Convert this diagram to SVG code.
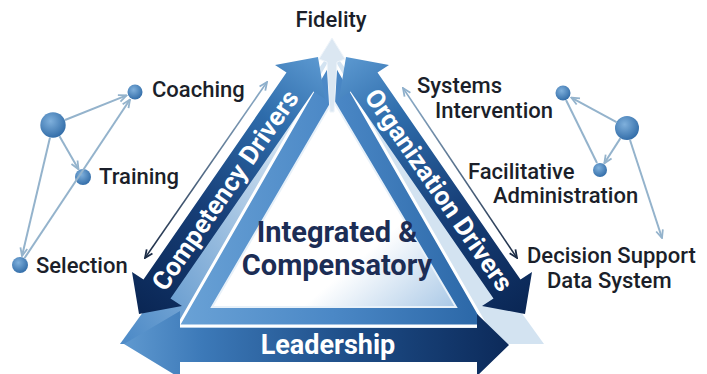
<svg xmlns="http://www.w3.org/2000/svg" width="707" height="374" viewBox="0 0 707 374">
<defs>
<style>
.lbl{font-family:Roboto,"Liberation Sans",sans-serif;font-weight:500;font-size:22px;fill:#1b1f2a}
.band{font-family:Roboto,"Liberation Sans",sans-serif;font-weight:700;font-size:26px;fill:#ffffff}
.ctr{font-family:Roboto,"Liberation Sans",sans-serif;font-weight:700;font-size:29px;fill:#1c2d55;text-anchor:middle}
.con{fill:none;stroke:#94b3cc;stroke-width:2}
.dot{fill:url(#dotGrad)}
</style>
<radialGradient id="dotGrad" cx="0.4" cy="0.35" r="0.7">
<stop offset="0" stop-color="#7fb0dc"/>
<stop offset="1" stop-color="#2f6aa6"/>
</radialGradient>
<linearGradient id="bandGrad" gradientUnits="userSpaceOnUse" x1="139" y1="314" x2="318" y2="57">
<stop offset="0" stop-color="#0a2654"/>
<stop offset="0.4" stop-color="#173f78"/>
<stop offset="0.75" stop-color="#2e6cab"/>
<stop offset="1" stop-color="#5b98d0"/>
</linearGradient>
<linearGradient id="paleGrad" gradientUnits="userSpaceOnUse" x1="130" y1="340" x2="330" y2="200">
<stop offset="0" stop-color="#4f8cc8"/>
<stop offset="1" stop-color="#d3e3f1"/>
</linearGradient>
<linearGradient id="frameGrad" gradientUnits="userSpaceOnUse" x1="178" y1="0" x2="486" y2="0">
<stop offset="0" stop-color="#6aa2d6"/>
<stop offset="0.5" stop-color="#4b88c6"/>
<stop offset="1" stop-color="#2a66a6"/>
</linearGradient>
<linearGradient id="innerGrad" x1="0.3" y1="0.3" x2="1" y2="1">
<stop offset="0" stop-color="#ffffff"/>
<stop offset="0.55" stop-color="#ffffff"/>
<stop offset="1" stop-color="#a9c8e6"/>
</linearGradient>
<linearGradient id="leadGrad" gradientUnits="userSpaceOnUse" x1="126" y1="0" x2="508" y2="0">
<stop offset="0" stop-color="#5e98cf"/>
<stop offset="0.2" stop-color="#3c79b8"/>
<stop offset="0.6" stop-color="#1d4c86"/>
<stop offset="1" stop-color="#0c2a5a"/>
</linearGradient>
<linearGradient id="thinL" gradientUnits="userSpaceOnUse" x1="145" y1="258" x2="267" y2="82">
<stop offset="0" stop-color="#1b2b45"/>
<stop offset="1" stop-color="#8fb0cc"/>
</linearGradient>
<linearGradient id="thinR" gradientUnits="userSpaceOnUse" x1="403" y1="88" x2="517" y2="258">
<stop offset="0" stop-color="#8fb0cc"/>
<stop offset="1" stop-color="#1b2b45"/>
</linearGradient>
<marker id="arrC" viewBox="0 0 10 10" refX="9" refY="5" markerWidth="10" markerHeight="10" markerUnits="userSpaceOnUse" orient="auto-start-reverse">
<path d="M1,1.5 L9,5 L1,8.5" fill="none" stroke="#94b3cc" stroke-width="1.8"/>
</marker>
<marker id="arrDark" viewBox="0 0 10 10" refX="9" refY="5" markerWidth="10" markerHeight="10" markerUnits="userSpaceOnUse" orient="auto-start-reverse">
<path d="M1,1.5 L9,5 L1,8.5" fill="none" stroke="#1b2b45" stroke-width="1.8"/>
</marker>
<marker id="arrLight" viewBox="0 0 10 10" refX="9" refY="5" markerWidth="10" markerHeight="10" markerUnits="userSpaceOnUse" orient="auto-start-reverse">
<path d="M1,1.5 L9,5 L1,8.5" fill="none" stroke="#8fb0cc" stroke-width="1.8"/>
</marker>
<polygon id="bandShape" points="139,314 132,272 143.5,279.5 286.5,72.5 275,65 318,57 325,99 313.5,91.5 170.5,298.5 182,306"/>
</defs>

<rect width="707" height="374" fill="#ffffff"/>

<g id="triangle-backdrop">
<polygon points="332,50 120,344 544,344" fill="url(#paleGrad)"/>
</g>

<g id="integrated-frame">
<polygon points="332,58 178,326 486,326" fill="url(#frameGrad)" stroke="#ffffff" stroke-width="3"/>
<polygon points="333,100 212,307 456,307" fill="url(#innerGrad)" stroke="#e8f1f9" stroke-width="2"/>
</g>

<g id="competency-drivers">
<use href="#bandShape" fill="url(#bandGrad)"/>
<text class="band" transform="translate(225,190) rotate(-55.36)" text-anchor="middle" dy="0.35em">Competency Drivers</text>
</g>

<g id="organization-drivers">
<use href="#bandShape" fill="url(#bandGrad)" transform="translate(664,0) scale(-1,1)"/>
<text class="band" transform="translate(439,190) rotate(55.36)" text-anchor="middle" dy="0.35em">Organization Drivers</text>
</g>

<g id="leadership">
<polygon points="124,344 180,311 180,328 477,328 477,314 509,345 477,376 477,362 180,362 180,378" fill="url(#leadGrad)"/>
<text x="328" y="354" text-anchor="middle" style="font-family:Roboto,'Liberation Sans',sans-serif;font-weight:700;font-size:27px;fill:#ffffff">Leadership</text>
</g>

<g id="fidelity">
<polygon points="332,38 345,59 337,62 334,112 330,112 327,62 319,59" fill="#dbe7f2" stroke="#eef4fa" stroke-width="1"/>
<text class="lbl" x="331" y="27" text-anchor="middle">Fidelity</text>
</g>

<g id="integrated-compensatory">
<text class="ctr" x="337" y="242">Integrated &amp;</text>
<text class="ctr" x="337" y="275">Compensatory</text>
</g>

<g id="competency-hub"><circle class="dot" cx="53" cy="125" r="12.7"/></g>
<g id="coaching"><circle class="dot" cx="135" cy="92" r="7.5"/><text class="lbl" x="152" y="97">Coaching</text></g>
<g id="training"><circle class="dot" cx="83" cy="177" r="8"/><text class="lbl" x="99" y="184">Training</text></g>
<g id="selection"><circle class="dot" cx="20" cy="265" r="8"/><text class="lbl" x="36" y="273">Selection</text></g>

<g id="organization-hub"><circle class="dot" cx="627" cy="128" r="12"/></g>
<g id="systems-intervention"><circle class="dot" cx="563" cy="93" r="7.5"/><text class="lbl" x="417" y="93">Systems</text><text class="lbl" x="435" y="118">Intervention</text></g>
<g id="facilitative-administration"><circle class="dot" cx="600" cy="170" r="7"/><text class="lbl" x="468" y="179">Facilitative</text><text class="lbl" x="493" y="203">Administration</text></g>
<g id="decision-support"><text class="lbl" x="527" y="263">Decision Support</text><text class="lbl" x="547" y="288">Data System</text></g>

<g id="connectors">
<line class="con" x1="65" y1="120" x2="126.6" y2="95.4" marker-end="url(#arrC)"/>
<line class="con" x1="59.5" y1="136.3" x2="78.5" y2="169.2" marker-end="url(#arrC)"/>
<line class="con" x1="50" y1="137.6" x2="22" y2="256" marker-end="url(#arrC)"/>
<line class="con" x1="24.4" y1="258.3" x2="130" y2="99.5" marker-end="url(#arrC)"/>
<line class="con" x1="616.5" y1="122.2" x2="571.3" y2="97.6" marker-end="url(#arrC)"/>
<line class="con" x1="620.5" y1="138.1" x2="604.3" y2="163.3" marker-end="url(#arrC)"/>
<line class="con" x1="566" y1="100" x2="597" y2="163"/>
<line class="con" x1="630" y1="140" x2="662" y2="238" marker-end="url(#arrC)"/>
<line x1="145" y1="258" x2="267" y2="82" stroke="url(#thinL)" stroke-width="1.6" marker-start="url(#arrDark)" marker-end="url(#arrLight)"/>
<line x1="403" y1="88" x2="517" y2="258" stroke="url(#thinR)" stroke-width="1.6" marker-start="url(#arrLight)" marker-end="url(#arrDark)"/>
</g>
</svg>
